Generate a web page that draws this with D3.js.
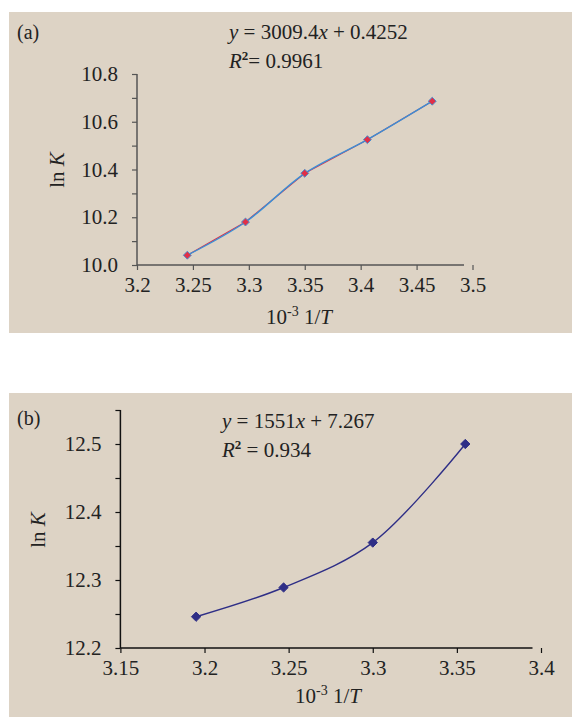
<!DOCTYPE html>
<html>
<head>
<meta charset="utf-8">
<script src="https://cdn.jsdelivr.net/npm/d3@7"></script>
<style>
  body { margin: 0; background: #fff; }
  svg text { font-family: "Liberation Serif", "Times New Roman", serif; fill: #222; }
</style>
</head>
<body>
<script>
'use strict';

// panel (a): ln K against 10^-3 1/T
const aX = [3.245, 3.297, 3.350, 3.406, 3.464];
const aY = [10.041, 10.180, 10.384, 10.525, 10.686];
const aXTicks = [3.2, 3.25, 3.3, 3.35, 3.4, 3.45, 3.5];
const aYTicks = [10.0, 10.1, 10.2, 10.3, 10.4, 10.5, 10.6, 10.7, 10.8];
const aYLabels = [10.0, 10.2, 10.4, 10.6, 10.8];

// panel (b)
const bX = [3.195, 3.247, 3.300, 3.355];
const bY = [12.246, 12.289, 12.355, 12.500];
const bXTicks = [3.15, 3.2, 3.25, 3.3, 3.35, 3.4];
const bYTicks = [12.2, 12.25, 12.3, 12.35, 12.4, 12.45, 12.5, 12.55];
const bYLabels = [12.2, 12.3, 12.4, 12.5];

const svg = d3.select('body').append('svg')
  .attr('width', 572)
  .attr('height', 717);

function drawPanel(cfg) {
  let g = svg.append('g');

  g.append('rect')
    .attr('x', cfg.box[0]).attr('y', cfg.box[1])
    .attr('width', cfg.box[2]).attr('height', cfg.box[3])
    .attr('fill', '#ddd3c5');

  let x = d3.scaleLinear().domain(cfg.xDomain).range(cfg.xRange);
  let y = d3.scaleLinear().domain(cfg.yDomain).range(cfg.yRange);
  let y0 = cfg.yRange[0];
  let x0 = cfg.xRange[0];

  // x axis: line stops short of the last tick, like the original
  let xAxis = d3.axisBottom(x)
    .tickValues(cfg.xTicks)
    .tickSize(5)
    .tickPadding(7)
    .tickFormat(d => d3.format('')(+d.toFixed(2)));
  let gx = g.append('g')
    .attr('transform', 'translate(0,' + y0 + ')')
    .call(xAxis);
  gx.select('.domain').remove();
  gx.selectAll('line').attr('stroke', cfg.axisColor).attr('stroke-width', 1.2);
  gx.selectAll('text').style('font-size', '21px').attr('fill', '#222');
  g.append('line')
    .attr('x1', x0).attr('x2', cfg.xRange[1] - 8.5)
    .attr('y1', y0).attr('y2', y0)
    .attr('stroke', cfg.axisColor).attr('stroke-width', 1.5);

  // y axis
  let yAxis = d3.axisLeft(y)
    .tickValues(cfg.yTicks)
    .tickSize(5)
    .tickPadding(14)
    .tickFormat(d => cfg.yLabels.some(v => Math.abs(v - d) < 1e-6) ? d3.format('.1f')(d) : '');
  let gy = g.append('g')
    .attr('transform', 'translate(' + x0 + ',0)')
    .call(yAxis);
  gy.select('.domain').remove();
  gy.selectAll('line').attr('stroke', cfg.axisColor).attr('stroke-width', 1.2);
  gy.selectAll('text').style('font-size', '21px').attr('fill', '#222');
  g.append('line')
    .attr('x1', x0).attr('x2', x0)
    .attr('y1', cfg.yRange[1]).attr('y2', y0)
    .attr('stroke', cfg.axisColor).attr('stroke-width', 1.5);

  let pts = cfg.xs.map((v, i) => [x(v), y(cfg.ys[i])]);

  if (cfg.underColor) {
    g.append('path')
      .datum(pts)
      .attr('fill', 'none')
      .attr('stroke', cfg.underColor)
      .attr('stroke-width', 1.2)
      .attr('d', d3.line());
  }

  g.append('path')
    .datum(pts)
    .attr('fill', 'none')
    .attr('stroke', cfg.lineColor)
    .attr('stroke-width', 1.4)
    .attr('d', d3.line().curve(d3.curveCatmullRom.alpha(0.5)));

  g.selectAll('.dot')
    .data(pts)
    .enter()
    .append('path')
    .attr('transform', d => 'translate(' + d[0] + ',' + d[1] + ')')
    .attr('d', d3.symbol().type(d3.symbolDiamond2).size(cfg.markerSize))
    .attr('fill', cfg.markerFill)
    .attr('stroke', cfg.markerStroke)
    .attr('stroke-width', 1);

  // labels
  g.append('text')
    .attr('x', cfg.tag[0]).attr('y', cfg.tag[1])
    .style('font-size', '20px')
    .text(cfg.tagText);

  let eq = g.append('text')
    .attr('x', cfg.eqPos[0]).attr('y', cfg.eqPos[1])
    .style('font-size', '21px');
  eq.append('tspan').style('font-style', 'italic').text('y');
  eq.append('tspan').text(' = ' + cfg.slope);
  eq.append('tspan').style('font-style', 'italic').text('x');
  eq.append('tspan').text(' + ' + cfg.intercept);

  let r2 = g.append('text')
    .attr('x', cfg.eqPos[0]).attr('y', cfg.eqPos[1] + 29)
    .style('font-size', '21px');
  r2.append('tspan').style('font-style', 'italic').text('R');
  r2.append('tspan').attr('dy', -8).style('font-size', '13px').style('font-weight', 'bold').text('2');
  r2.append('tspan').attr('dy', 8).text(cfg.r2Gap + '= ' + cfg.r2);

  let xt = g.append('text')
    .attr('x', cfg.xTitle[0]).attr('y', cfg.xTitle[1])
    .attr('text-anchor', 'middle')
    .style('font-size', '21px');
  xt.append('tspan').text('10');
  xt.append('tspan').attr('dy', -8).style('font-size', '14px').text('-3');
  xt.append('tspan').attr('dy', 8).text(' 1/');
  xt.append('tspan').style('font-style', 'italic').text('T');

  let yt = g.append('text')
    .attr('transform', 'translate(' + cfg.yTitle[0] + ',' + cfg.yTitle[1] + ') rotate(-90)')
    .attr('text-anchor', 'middle')
    .style('font-size', '21px');
  yt.append('tspan').text('ln ');
  yt.append('tspan').style('font-style', 'italic').text('K');
}

drawPanel({
  box: [9, 12, 563, 321],
  xDomain: [3.2, 3.5], xRange: [137, 472.5],
  yDomain: [10.0, 10.8], yRange: [265, 74],
  xTicks: aXTicks, yTicks: aYTicks, yLabels: aYLabels,
  xs: aX, ys: aY,
  axisColor: '#555',
  underColor: '#d8304a',
  lineColor: '#3a8fd6',
  markerFill: '#e03048', markerStroke: '#4a8fd0', markerSize: 40,
  tag: [17, 39], tagText: '(a)',
  eqPos: [229, 39], slope: '3009.4', intercept: '0.4252', r2: '0.9961', r2Gap: '',
  xTitle: [299, 324], yTitle: [64, 170]
});

drawPanel({
  box: [9, 393, 563, 324],
  xDomain: [3.15, 3.4], xRange: [120.4, 541],
  yDomain: [12.2, 12.55], yRange: [648, 410],
  xTicks: bXTicks, yTicks: bYTicks, yLabels: bYLabels,
  xs: bX, ys: bY,
  axisColor: '#111',
  underColor: null,
  lineColor: '#2e2e86',
  markerFill: '#2e2e86', markerStroke: '#2e2e86', markerSize: 55,
  tag: [17, 425], tagText: '(b)',
  eqPos: [222, 428], slope: '1551', intercept: '7.267', r2: '0.934', r2Gap: ' ',
  xTitle: [328, 703], yTitle: [45, 530]
});
</script>
</body>
</html>
